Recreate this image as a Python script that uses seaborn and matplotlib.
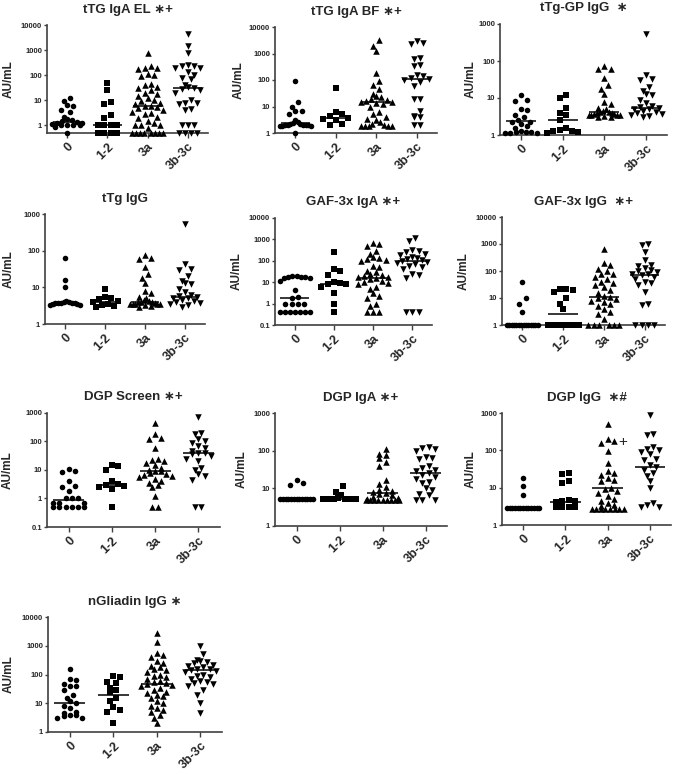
import numpy as np
import pandas as pd
import matplotlib
matplotlib.use('Agg')
import matplotlib.pyplot as plt
import seaborn as sns
from matplotlib.ticker import FixedLocator, FuncFormatter, NullLocator

GROUPS = ['0', '1-2', '3a', '3b-3c']
MARKERS = ['o', 's', '^', 'v']

# ---- values (AU/mL) ----
# tTG IgA EL
el_0 = [12, 9, 6.5, 6, 4, 3.5, 2.2, 1.8, 1.7, 1.5, 1.4, 1.3, 1.2, 1.1, 1.0, 1.0, 1.0, 1.0, 0.9, 0.5]
el_12 = [50, 25, 8.8, 7, 2.7, 1.9, 1, 1, 1, 1, 0.5, 0.5, 0.5, 0.5]
el_3a = [750, 230, 200, 190, 180, 110, 100, 95, 45, 40, 35, 30, 25, 20, 18, 15, 12, 10, 9, 8, 7, 6, 6,
         5.5, 5, 4, 3.5, 3, 2.8, 2.2, 2, 1.5, 1.2, 1, 1, 1, 0.8, 0.5, 0.5, 0.5, 0.5, 0.5, 0.5, 0.5, 0.5]
el_3b = [4400, 1500, 800, 250, 240, 230, 200, 200, 130, 100, 80, 70, 40, 35, 30, 28, 25, 20, 10, 8,
         7.5, 7, 4.5, 4, 1, 1, 1, 0.5, 0.5, 0.5, 0.5]
el_med = [1.4, 1.0, 6.0, 30]

# tTG IgA BF
bf_0 = [90, 15, 10, 7, 6.5, 5, 3, 2.5, 2.3, 2.2, 2.1, 2, 2, 2, 2, 2, 1.9, 1.9, 1.8, 1]
bf_12 = [50, 6, 5, 4.5, 3.8, 3.5, 3, 2.2, 2]
bf_3a = [3200, 2000, 1200, 190, 90, 65, 45, 30, 25, 22, 20, 18, 16, 15, 15, 14, 12, 10, 6, 5, 4, 3.5,
         3, 2.5, 2.2, 2, 1.8, 1.8, 1.8, 1.8, 1.8]
bf_3b = [3000, 2500, 2300, 700, 600, 380, 330, 160, 140, 120, 110, 100, 85, 60, 20, 19, 7, 4.2, 4, 4, 2, 2]
bf_med = [2.3, 3.8, 15, 105]

# tTg-GP IgG
gp_0 = [12, 9, 8.5, 5, 4.8, 3.5, 3, 2.6, 2.3, 2.2, 2, 1.8, 1.5, 1.3, 1.2, 1.2, 1.2, 1.1, 1.1, 1.1]
gp_12 = [12, 10, 5.5, 4, 3.5, 2.5, 1.5, 1.4, 1.3, 1.3, 1.2, 1.1]
gp_3a = [75, 62, 60, 35, 23, 18, 13, 8, 7, 5.5, 5, 4.5, 4.3, 4.1, 4, 4, 3.8, 3.6, 3.5, 3.5, 3.5, 3.5,
         3.3, 3.1, 3]
gp_3b = [550, 42, 32, 30, 20, 15, 13, 12, 9, 7.5, 6, 5.8, 5.5, 5.2, 5, 4.5, 4.2, 4, 3.8, 3.5, 3.3, 3]
gp_med = [2.4, 2.5, 4.1, 5.4]

# tTg IgG
tg_0 = [62, 16, 10.5, 4.2, 4, 3.9, 3.8, 3.8, 3.8, 3.7, 3.7, 3.6, 3.5, 3.3, 3.2]
tg_12 = [9, 5.5, 5, 4.8, 4.3, 4, 3.6, 3.3, 3.1, 3]
tg_3a = [75, 62, 60, 35, 23, 18, 13, 8, 7, 5.5, 5, 4.5, 4.3, 4.1, 4, 4, 3.8, 3.6, 3.5, 3.5, 3.5, 3.5,
         3.3, 3.1, 3]
tg_3b = [550, 42, 32, 30, 20, 15, 13, 12, 9, 7.5, 6, 5.8, 5.5, 5.2, 5, 4.5, 4.2, 4, 3.8, 3.5, 3.3, 3]
tg_med = [3.8, 4.0, 4.1, 5.4]

# GAF-3x IgA
ga_0 = [20, 19, 18, 18, 17, 16, 15, 12, 4.5, 2, 1.9, 1, 1, 1, 1, 0.4, 0.4, 0.4, 0.4, 0.4, 0.4, 0.4]
ga_12 = [250, 40, 35, 22, 10, 9, 8, 8, 6, 3, 1, 0.4]
ga_3a = [700, 600, 500, 300, 200, 150, 130, 120, 110, 100, 60, 50, 35, 30, 25, 22, 20, 18, 17, 15,
         14, 12, 10, 9, 8, 6, 5, 3, 2.2, 1.8, 1, 0.8, 0.4, 0.4, 0.4]
ga_3b = [1200, 800, 320, 300, 260, 210, 180, 150, 130, 120, 105, 100, 90, 80, 70, 60, 50, 40, 25, 22,
         15, 0.42, 0.42, 0.42]
ga_med = [1.8, 8.0, 16.5, 95]

# GAF-3x IgG
gg_0 = [38, 10, 6, 3, 1, 1, 1, 1, 1, 1, 1, 1, 1, 1, 1, 1, 1, 1]
gg_12 = [22, 21, 20, 16, 10, 6, 4, 1, 1, 1, 1, 1, 1, 1]
gg_3a = [650, 190, 160, 120, 100, 80, 75, 60, 50, 40, 35, 30, 25, 20, 15, 12, 11, 10, 9, 8, 7, 6, 5,
         4, 3, 2.5, 1.7, 1, 1, 1, 1, 1, 1]
gg_3b = [1000, 950, 500, 250, 160, 150, 130, 110, 100, 90, 80, 75, 70, 60, 50, 40, 35, 30, 16, 6, 5.5,
         1, 1, 1, 1]
gg_med = [1.0, 2.5, 10.5, 74]

# DGP Screen
ds_0 = [11, 9, 8.5, 4, 2.7, 2.6, 1.9, 1, 1, 1, 0.7, 0.7, 0.7, 0.5, 0.5, 0.5, 0.5, 0.5, 0.5]
ds_12 = [15, 14, 10, 4, 3.2, 3, 2.8, 2.5, 2.2, 0.5]
ds_3a = [450, 180, 130, 120, 60, 25, 22, 20, 18, 15, 12, 10, 9, 9, 8, 7, 6.5, 6, 5.5, 5, 4, 3.5, 3,
         2.5, 1.2, 0.5, 0.5]
ds_3b = [700, 200, 180, 120, 100, 90, 70, 60, 45, 40, 38, 35, 30, 25, 20, 12, 10, 7, 6, 4.5, 0.5, 0.5]
ds_med = [0.9, 3.0, 9.3, 39]

# DGP IgA
da_0 = [17, 14, 12.5, 5.3, 5.3, 5.3, 5.3, 5.3, 5.3, 5.3, 5.3, 5.3, 5.3, 5.3, 5.3, 5.3]
da_12 = [11.5, 8, 6.5, 5.5, 5.3, 5.3, 5.3, 5.3, 5.3, 5.3, 5.3, 5.3]
da_3a = [110, 80, 75, 65, 50, 38, 17, 13, 11, 9, 8.5, 8, 7.5, 7, 6.5, 6, 5.5, 5.2, 5, 5, 5, 5, 5, 5,
         5, 5, 5]
da_3b = [125, 115, 110, 100, 70, 65, 60, 40, 35, 30, 28, 25, 22, 20, 18, 15, 14, 10, 9, 7, 6.5, 5, 5, 5]
da_med = [5.3, 5.3, 7.6, 25.5]

# DGP IgG
dg_0 = [18, 11, 6.5, 2.8, 2.8, 2.8, 2.8, 2.8, 2.8, 2.8, 2.8, 2.8, 2.8, 2.8, 2.8, 2.8]
dg_12 = [25, 23, 15, 13, 4.8, 4.5, 4.3, 4.2, 3, 3, 3, 3]
dg_3a = [500, 200, 180, 160, 95, 45, 28, 25, 22, 18, 16, 15, 10, 9, 8, 7, 6, 5, 4.5, 4, 3.5, 3.2,
         2.7, 2.7, 2.7, 2.7, 2.7, 2.7, 2.7, 2.7]
dg_3b = [900, 280, 260, 120, 110, 100, 90, 80, 60, 55, 40, 35, 30, 25, 20, 15, 10, 4, 3.5, 3, 3]
dg_med = [2.8, 4.2, 9.8, 35]

# nGliadin IgG
ng_0 = [160, 70, 65, 45, 40, 40, 30, 20, 15, 12, 10, 8, 7, 5, 4.5, 4, 4, 3.5, 3, 3]
ng_12 = [90, 85, 55, 50, 35, 30, 25, 15, 12, 7.5, 6, 5, 2]
ng_3a = [2800, 1400, 550, 480, 400, 300, 250, 200, 180, 150, 140, 120, 100, 90, 80, 70, 60, 55, 50,
         45, 42, 40, 35, 30, 25, 22, 20, 18, 15, 12, 10, 8, 7, 6, 5, 4, 3, 2]
ng_3b = [950, 500, 320, 300, 280, 250, 220, 200, 180, 160, 150, 140, 130, 120, 100, 90, 80, 70, 60,
         55, 50, 45, 40, 30, 20, 10, 4.5]
ng_med = [10, 20, 45, 140]

# title, groups, medians, y-limits
panels = [
    ('tTG IgA EL ∗+', [el_0, el_12, el_3a, el_3b], el_med, (0.5, 10000)),
    ('tTG IgA BF ∗+', [bf_0, bf_12, bf_3a, bf_3b], bf_med, (1, 10000)),
    ('tTg-GP IgG  ∗', [gp_0, gp_12, gp_3a, gp_3b], gp_med, (1, 1000)),
    ('tTg IgG', [tg_0, tg_12, tg_3a, tg_3b], tg_med, (1, 1000)),
    ('GAF-3x IgA ∗+', [ga_0, ga_12, ga_3a, ga_3b], ga_med, (0.1, 10000)),
    ('GAF-3x IgG  ∗+', [gg_0, gg_12, gg_3a, gg_3b], gg_med, (1, 10000)),
    ('DGP Screen ∗+', [ds_0, ds_12, ds_3a, ds_3b], ds_med, (0.1, 1000)),
    ('DGP IgA ∗+', [da_0, da_12, da_3a, da_3b], da_med, (1, 1000)),
    ('DGP IgG  ∗#', [dg_0, dg_12, dg_3a, dg_3b], dg_med, (1, 1000)),
    ('nGliadin IgG ∗', [ng_0, ng_12, ng_3a, ng_3b], ng_med, (1, 10000)),
]

# axes boxes in pixels: left, top, right, bottom, ylabel offset
boxes = [
    (47, 25, 208, 133, 32), (275, 27, 437, 133, 30), (500, 24, 667, 135, 23),
    (45, 214, 205, 324, 30), (275, 218, 432, 325, 32), (502, 217, 665, 325, 32),
    (47, 413, 220, 527, 33), (275, 413, 447, 526, 27), (502, 413, 671, 525, 25),
    (48, 617, 222, 732, 33),
]

DIAM = 5.0      # marker diameter, px
MAXW = 0.38     # half width of a dot row, category units


def scatter_layout(vals, px_dec, px_cat):
    """Prism-like dot rows: points close in y are spread around the centre."""
    v = np.sort(np.asarray(vals, float))[::-1]
    ly = np.log10(v) * px_dec
    offs = np.zeros(len(v))
    rows = []
    for idx, y in enumerate(ly):
        if rows and rows[-1][0] - y < DIAM * 1.25:
            rows[-1][1].append(idx)
        else:
            rows.append([y, [idx]])
    for _, idxs in rows:
        n = len(idxs)
        step = DIAM * 1.25 / px_cat
        if n > 1:
            step = min(step, 2 * MAXW / (n - 1))
        slots = (np.arange(n) - (n - 1) / 2) * step
        # fill from the centre outwards, alternating sides
        order = sorted(range(n), key=lambda j: (abs(slots[j]), -slots[j]))
        for idx, j in zip(idxs, order):
            offs[idx] = slots[j]
    return v, offs


sns.set_style('ticks')
plt.rcParams['font.family'] = ['Liberation Sans', 'DejaVu Sans']
plt.rcParams['font.weight'] = 'bold'

W, H = 673, 774
fig = plt.figure(figsize=(W / 100, H / 100), dpi=100)

for k, ((title, groups, meds, lims), (l, t, r, b, off)) in enumerate(zip(panels, boxes)):
    ax = fig.add_axes([l / W, 1 - b / H, (r - l) / W, (b - t) / H])
    ax.set_yscale('log')
    px_dec = (b - t) / np.log10(lims[1] / lims[0])
    px_cat = (r - l) / 4
    for i, vals in enumerate(groups):
        v, offs = scatter_layout(vals, px_dec, px_cat)
        df = pd.DataFrame({'pos': i + offs, 'val': v})
        sns.scatterplot(data=df, x='pos', y='val', marker=MARKERS[i], color='black',
                        s=22 if MARKERS[i] in '^v' else 16, linewidth=0, clip_on=False,
                        zorder=3, ax=ax)
    for i, m in enumerate(meds):
        ax.hlines(m, i - 0.36, i + 0.36, color='black', lw=1.1, zorder=4)

    ax.set_xlim(-0.5, 3.5)
    ax.set_ylim(*lims)
    dec = [10.0 ** e for e in range(int(np.floor(np.log10(lims[0]) + 0.999)), int(np.log10(lims[1])) + 1)]
    ax.yaxis.set_major_locator(FixedLocator(dec))
    ax.yaxis.set_minor_locator(NullLocator())
    ax.yaxis.set_major_formatter(FuncFormatter(lambda v, p: '%g' % v))
    ax.tick_params(axis='y', labelsize=5.5, length=2.5, width=1, pad=1, color='#404040')
    ax.tick_params(axis='x', length=3.5, width=1, pad=2, color='#404040')
    ax.set_xticks(range(4))
    ax.set_xticklabels(GROUPS, rotation=45, ha='right', va='top', rotation_mode='anchor',
                       fontsize=9, fontweight='bold')
    sns.despine(ax=ax)
    for s in ['left', 'bottom']:
        ax.spines[s].set_color('#404040')
        ax.spines[s].set_linewidth(1.2)
    ax.set_xlabel('')
    ax.set_ylabel('AU/mL', fontsize=8.5, fontweight='bold')
    ax.yaxis.set_label_coords(-off / (r - l), 0.5)
    ax.set_title(title, fontsize=9.5, fontweight='bold', pad=9)
    if k == 8:
        ax.text(2.35, 170, '+', fontsize=11, fontweight='normal', ha='center', va='center')

fig.savefig('out.png', dpi=100)
